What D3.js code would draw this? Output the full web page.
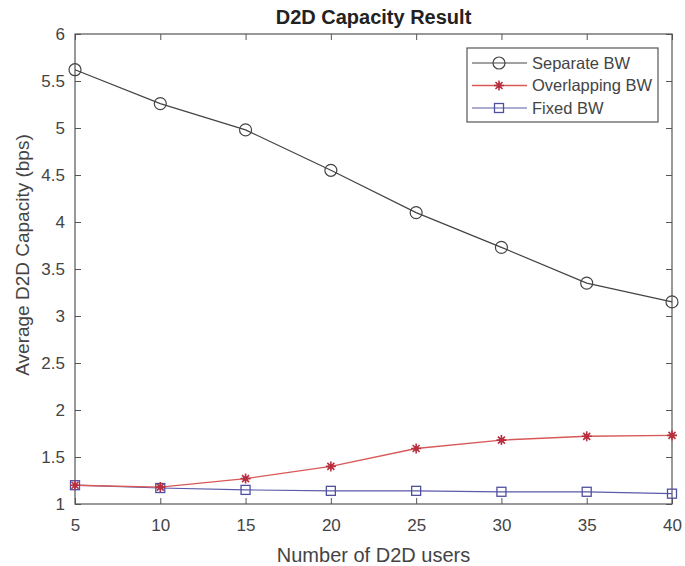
<!DOCTYPE html>
<html><head><meta charset="utf-8">
<script src="https://cdn.jsdelivr.net/npm/d3@7"></script>
<style>body{margin:0;background:#fff}svg{display:block}text{font-family:Arial,"Liberation Sans",sans-serif}</style>
</head><body>
<svg id="c" width="685" height="566"></svg>
<script>
const users = [5,10,15,20,25,30,35,40];
const separateBW = [5.62,5.26,4.98,4.55,4.10,3.73,3.35,3.15];
const overlappingBW = [1.20,1.18,1.27,1.40,1.59,1.68,1.72,1.73];
const fixedBW = [1.20,1.17,1.15,1.14,1.14,1.13,1.13,1.11];
const xTicks = [5,10,15,20,25,30,35,40];
const yTicks = [1,1.5,2,2.5,3,3.5,4,4.5,5,5.5,6];
const seriesNames = ["Separate BW","Overlapping BW","Fixed BW"];

const svg = d3.select("#c");
const m = {l:75, r:672, t:34, b:504};
const x = d3.scaleLinear().domain([5,40]).range([m.l,m.r]);
const y = d3.scaleLinear().domain([1,6]).range([m.b,m.t]);
const axisColor = "#555";
const fs = 17;

svg.append("rect").attr("x",m.l).attr("y",m.t).attr("width",m.r-m.l).attr("height",m.b-m.t)
  .attr("fill","none").attr("stroke",axisColor).attr("stroke-width",1.2);

function styleAxis(g){
  g.select(".domain").remove();
  g.selectAll("line").attr("stroke",axisColor);
  g.selectAll("text").attr("fill","#444").style("font-size",fs+"px");
}
svg.append("g").attr("transform",`translate(0,${m.b})`)
  .call(d3.axisBottom(x).tickValues(xTicks).tickSize(-6).tickPadding(15).tickFormat(d3.format("d"))).call(styleAxis);
svg.append("g").attr("transform",`translate(0,${m.t})`)
  .call(d3.axisTop(x).tickValues(xTicks).tickSize(-6).tickFormat("")).call(styleAxis);
svg.append("g").attr("transform",`translate(${m.l},0)`)
  .call(d3.axisLeft(y).tickValues(yTicks).tickSize(-6).tickPadding(10).tickFormat(d=>String(d))).call(styleAxis);
svg.append("g").attr("transform",`translate(${m.r},0)`)
  .call(d3.axisRight(y).tickValues(yTicks).tickSize(-6).tickFormat("")).call(styleAxis);

svg.append("text").attr("x",(m.l+m.r)/2).attr("y",24).attr("text-anchor","middle")
  .attr("font-weight","bold").style("font-size","20px").attr("fill","#222").text("D2D Capacity Result");
svg.append("text").attr("x",(m.l+m.r)/2).attr("y",562).attr("text-anchor","middle")
  .style("font-size","20px").attr("fill","#444").text("Number of D2D users");
svg.append("text").attr("transform",`translate(29,${(m.t+m.b)/2 - 14}) rotate(-90)`).attr("text-anchor","middle")
  .style("font-size","19px").attr("fill","#444").text("Average D2D Capacity (bps)");

const line = d3.line().x((d,i)=>x(users[i])).y(d=>y(d));

function circleM(g,cx,cy,col){ g.append("circle").attr("cx",cx).attr("cy",cy).attr("r",6).attr("fill","none").attr("stroke",col).attr("stroke-width",1.2); }
function squareM(g,cx,cy,col){ g.append("rect").attr("x",cx-4.5).attr("y",cy-4.5).attr("width",9).attr("height",9).attr("fill","none").attr("stroke",col).attr("stroke-width",1.3); }
function starM(g,cx,cy,col){
  const s=5;
  g.append("path").attr("d",`M${cx-s},${cy}L${cx+s},${cy}M${cx},${cy-s}L${cx},${cy+s}M${cx-s*0.7},${cy-s*0.7}L${cx+s*0.7},${cy+s*0.7}M${cx-s*0.7},${cy+s*0.7}L${cx+s*0.7},${cy-s*0.7}`)
   .attr("stroke",col).attr("stroke-width",1.6);
  g.append("circle").attr("cx",cx).attr("cy",cy).attr("r",2.5).attr("fill",col);
}

const series = [
  {name:seriesNames[0], data:separateBW, color:"#444", mcol:"#444", marker:circleM, w:1.2},
  {name:seriesNames[1], data:overlappingBW, color:"#d85858", mcol:"#b83040", marker:starM, w:1.4},
  {name:seriesNames[2], data:fixedBW, color:"#5a5aa8", mcol:"#5050a0", marker:squareM, w:1.2}
];
[series[2],series[1],series[0]].forEach(s=>{
  svg.append("path").datum(s.data).attr("d",line).attr("fill","none").attr("stroke",s.color).attr("stroke-width",s.w);
  const g = svg.append("g");
  s.data.forEach((v,i)=>s.marker(g,x(users[i]),y(v),s.mcol));
});

const lg = svg.append("g");
lg.append("rect").attr("x",467).attr("y",48).attr("width",191).attr("height",74)
  .attr("fill","#fff").attr("stroke",axisColor).attr("stroke-width",1.2);
series.forEach((s,i)=>{
  const ly = 63 + i*22.5;
  lg.append("line").attr("x1",472).attr("x2",527).attr("y1",ly).attr("y2",ly).attr("stroke",s.color).attr("stroke-width",s.w);
  s.marker(lg,499,ly,s.mcol);
  lg.append("text").attr("x",532).attr("y",ly).attr("dy","0.35em").style("font-size","16.5px").attr("fill","#444").text(s.name);
});
</script>
</body></html>
